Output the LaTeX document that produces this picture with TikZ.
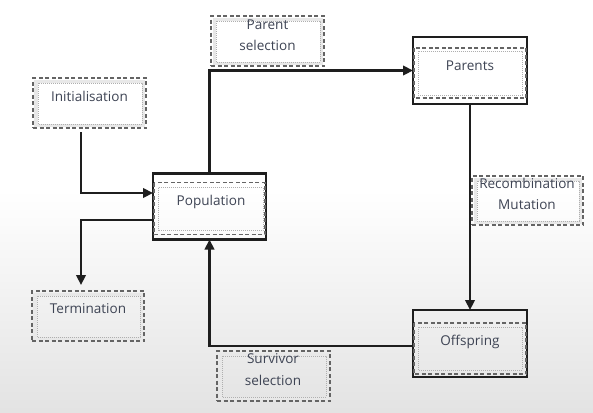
\documentclass[tikz,border=0pt]{standalone}
\usepackage{fontspec}
\setmainfont{Open Sans}
\usetikzlibrary{arrows.meta,calc}
\definecolor{txt}{RGB}{62,68,84}
\definecolor{ln}{RGB}{30,30,30}
\definecolor{dsh}{RGB}{100,100,100}
\definecolor{dot}{RGB}{175,175,175}
\definecolor{band}{RGB}{232,232,232}
\begin{document}
\begin{tikzpicture}[x=1bp,y=-1bp,
  solidbox/.style={draw=ln,line width=2.4bp,rectangle,inner sep=0pt,outer sep=0pt,minimum width=113bp,minimum height=66bp},
  dashbox/.style={draw=dsh,line width=1.6bp,dash pattern=on 4bp off 2.5bp,rectangle,inner sep=0pt,outer sep=0pt,minimum width=113bp,minimum height=50bp},
  innerband/.style={draw=band,line width=3bp},
  innerdash/.style={draw=dsh,line width=1.4bp,dash pattern=on 4bp off 2.5bp},
  innerdot/.style={draw=dot,line width=0.9bp,dash pattern=on 1bp off 1bp},
  lbl/.style={text=txt,inner sep=0pt,font=\fontsize{13.6}{21.5}\selectfont,align=center},
  conn/.style={draw=ln,line width=2.2bp,-{Triangle[length=10bp,width=9.5bp]}}]
\useasboundingbox (0,0) rectangle (593,412);
\fill[white] (0,0) rectangle (593,412);
\shade[top color=white,bottom color=gray!22] (0,190) rectangle (593,412);
% solid boxes
\node[solidbox] (pop) at (209.5,206.5) {};
\node[solidbox,minimum width=114bp,minimum height=67bp] (par) at (470,70.5) {};
\node[solidbox,minimum width=114bp,minimum height=67bp] (off) at (470,343.5) {};
% inner decorations of solid boxes
\draw[innerdash] ([shift={(1,9)}]pop.north west) rectangle ([shift={(-1,-5)}]pop.south east);
\draw[innerdot] ([shift={(5,14)}]pop.north west) rectangle ([shift={(-3,-9)}]pop.south east);
\draw[innerdash] ([shift={(1,11)}]par.north west) rectangle ([shift={(-1,-6)}]par.south east);
\draw[innerdot] ([shift={(5,14)}]par.north west) rectangle ([shift={(-5,-9)}]par.south east);
\draw[innerdash] ([shift={(1,13)}]off.north west) rectangle ([shift={(-1,-3)}]off.south east);
\draw[innerdot] ([shift={(5,17)}]off.north west) rectangle ([shift={(-5,-7)}]off.south east);
% dashed boxes
\node[dashbox] (psel) at (267.5,41) {};
\node[dashbox] (init) at (89.5,103) {};
\node[dashbox,minimum width=112bp] (term) at (88,316) {};
\node[dashbox,minimum width=111bp,minimum height=49bp] (reco) at (527.5,200.5) {};
\node[dashbox] (surv) at (273.5,376) {};
\foreach \b in {psel,init,term,reco,surv}{
  \draw[innerband] ([shift={(3,3)}]\b.north west) rectangle ([shift={(-3,-3)}]\b.south east);
  \draw[innerdot] ([shift={(5,5)}]\b.north west) rectangle ([shift={(-4,-4)}]\b.south east);
}
% labels
\node[lbl] (psellbl) at (267.5,35) {Parent\\selection};
\node[lbl] (initlbl) at (89.5,96) {Initialisation};
\node[lbl] (poplbl) at (211,202) {Population};
\node[lbl] (parlbl) at (470,66) {Parents};
\node[lbl] (recolbl) at (527,194) {Recombination\\Mutation};
\node[lbl] (offlbl) at (470,342) {Offspring};
\node[lbl] (termlbl) at (88,309) {Termination};
\node[lbl] (survlbl) at (273,369.5) {Survivor\\selection};
% connectors
\draw[conn] (pop.north) |- (par.west);
\draw[conn] ([shift={(-8.5,4)}]init.south) |- ([yshift=13.5bp]pop.west);
\draw[conn] ([yshift=-13.5bp]pop.west) -| ([shift={(-7,-6)}]term.north);
\draw[conn] (par.south) -- (off.north);
\draw[conn] ([yshift=-2.5bp]off.west) -| (pop.south);
\end{tikzpicture}
\end{document}
